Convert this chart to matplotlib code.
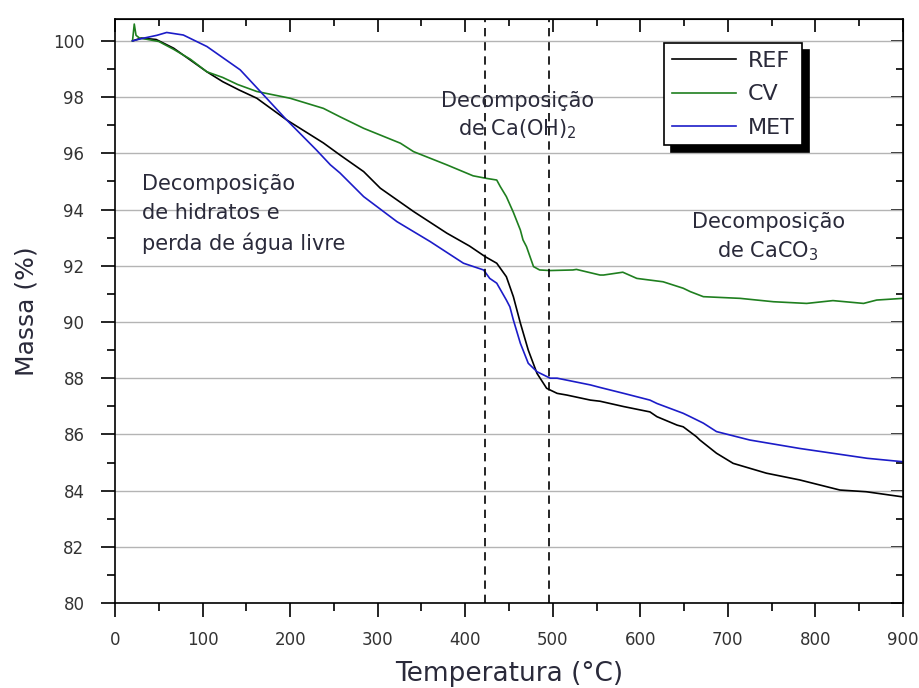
import matplotlib
matplotlib.use('Agg')
import matplotlib.pyplot as plt
from matplotlib.ticker import MultipleLocator

# mass loss curves (TGA), temperature in degC, mass in %
ref_t = [20, 30, 47, 67, 86, 105, 123, 142, 162, 196, 238, 257, 284, 303, 341,
         379, 405, 423, 436, 447, 455, 463, 472, 482, 493, 505, 516, 543, 554,
         581, 611, 619, 642, 649, 664, 668, 687, 706, 744, 782, 828, 858, 899]
ref_m = [100.0, 100.1, 100.05, 99.74, 99.32, 98.9, 98.55, 98.25, 97.96, 97.19,
         96.37, 95.94, 95.35, 94.76, 93.93, 93.16, 92.7, 92.32, 92.09, 91.61,
         90.9, 89.96, 89.0, 88.17, 87.64, 87.46, 87.4, 87.22, 87.18, 86.99,
         86.8, 86.63, 86.33, 86.27, 85.92, 85.8, 85.33, 84.97, 84.62, 84.38,
         84.02, 83.96, 83.78]

cv_t = [20, 22, 24, 28, 36, 50, 67, 86, 105, 123, 140, 162, 200, 238, 257, 284,
        326, 341, 379, 409, 424, 436, 440, 447, 455, 463, 466, 470, 478, 485,
        497, 523, 527, 554, 558, 580, 596, 626, 649, 657, 672, 714, 752, 790,
        820, 855, 870, 900]
cv_m = [100.0, 100.6, 100.2, 100.1, 100.06, 99.98, 99.7, 99.35, 98.9, 98.7,
        98.45, 98.2, 97.96, 97.6, 97.3, 96.89, 96.36, 96.06, 95.59, 95.2, 95.11,
        95.05, 94.82, 94.46, 93.9, 93.27, 92.92, 92.68, 91.97, 91.85, 91.83,
        91.85, 91.87, 91.67, 91.67, 91.77, 91.55, 91.43, 91.2, 91.08, 90.9,
        90.84, 90.72, 90.66, 90.76, 90.66, 90.78, 90.84]

met_t = [20, 30, 48, 59, 78, 105, 143, 166, 196, 230, 246, 257, 284, 322, 360,
         398, 421, 428, 436, 447, 451, 455, 463, 472, 482, 497, 505, 543, 554,
         581, 611, 619, 649, 657, 672, 687, 725, 782, 859, 899]
met_m = [100.0, 100.08, 100.2, 100.3, 100.21, 99.8, 98.97, 98.2, 97.19, 96.12,
         95.59, 95.3, 94.46, 93.57, 92.86, 92.09, 91.85, 91.55, 91.38, 90.78,
         90.54, 90.07, 89.24, 88.53, 88.23, 88.0, 88.0, 87.76, 87.67, 87.46,
         87.22, 87.1, 86.75, 86.63, 86.4, 86.1, 85.8, 85.5, 85.15, 85.03]

stage_limits = [423, 496]

txt_color = '#2a2a3a'

fig = plt.figure(figsize=(9.2, 6.88), dpi=100)
ax = fig.add_axes([0.125, 0.1235, 0.8565, 0.8485])

ax.plot(ref_t, ref_m, color='black', lw=1.2, label='REF')
ax.plot(cv_t, cv_m, color='#1f7f1f', lw=1.2, label='CV')
ax.plot(met_t, met_m, color='#1c1cc8', lw=1.2, label='MET')

for xv in stage_limits:
    ax.axvline(xv, color='black', lw=1.2, ls=(0, (5, 3.5)))

ax.set_xlim(0, 900)
ax.set_ylim(80, 100.77)
ax.xaxis.set_major_locator(MultipleLocator(100))
ax.xaxis.set_minor_locator(MultipleLocator(50))
ax.yaxis.set_major_locator(MultipleLocator(2))
ax.yaxis.set_minor_locator(MultipleLocator(1))
ax.grid(axis='y', which='major', color='#b4b4b4', lw=1)
ax.set_axisbelow(True)

ax.tick_params(which='both', direction='out', top=False, right=False,
               labelsize=12, labelcolor='#333333', width=1.2)
ax.tick_params(which='major', length=10)
ax.tick_params(which='minor', length=6)
ax.tick_params(axis='x', pad=10)
ax.tick_params(axis='y', pad=12)

# inward ticks on the top and right spines
ax_top = ax.secondary_xaxis('top')
ax_top.xaxis.set_major_locator(MultipleLocator(100))
ax_top.xaxis.set_minor_locator(MultipleLocator(50))
ax_top.tick_params(which='both', direction='in', labeltop=False, width=1.2)
ax_top.tick_params(which='major', length=9)
ax_top.tick_params(which='minor', length=5)
ax_right = ax.secondary_yaxis('right')
ax_right.yaxis.set_major_locator(MultipleLocator(2))
ax_right.yaxis.set_minor_locator(MultipleLocator(1))
ax_right.tick_params(which='both', direction='in', labelright=False, width=1.2)
ax_right.tick_params(which='major', length=9)
ax_right.tick_params(which='minor', length=5)

for sp in ax.spines.values():
    sp.set_linewidth(1.2)

ax.set_xlabel('Temperatura (°C)', fontsize=19, color=txt_color, labelpad=9)
ax.set_ylabel('Massa (%)', fontsize=18, color=txt_color, labelpad=10)

ax.text(31, 95.25, 'Decomposição\nde hidratos e\nperda de água livre',
        fontsize=15, color=txt_color, ha='left', va='top', linespacing=1.55)
ax.text(460, 98.22, 'Decomposição\nde Ca(OH)$_2$', fontsize=15,
        color=txt_color, ha='center', va='top', linespacing=1.35)
ax.text(746, 93.92, 'Decomposição\nde CaCO$_3$', fontsize=15,
        color=txt_color, ha='center', va='top', linespacing=1.4)

leg = ax.legend(loc='upper right', bbox_to_anchor=(0.872, 0.959),
                borderaxespad=0, fontsize=16, fancybox=False,
                handlelength=2.9, handletextpad=0.5, labelspacing=0.6,
                borderpad=0.35,
                shadow={'color': 'black', 'alpha': 1, 'ox': 5, 'oy': -5})
leg.get_frame().set_edgecolor('black')
leg.get_frame().set_linewidth(1.2)
leg.get_frame().set_alpha(1)
for t in leg.get_texts():
    t.set_color(txt_color)

fig.savefig('out.png', dpi=100)
